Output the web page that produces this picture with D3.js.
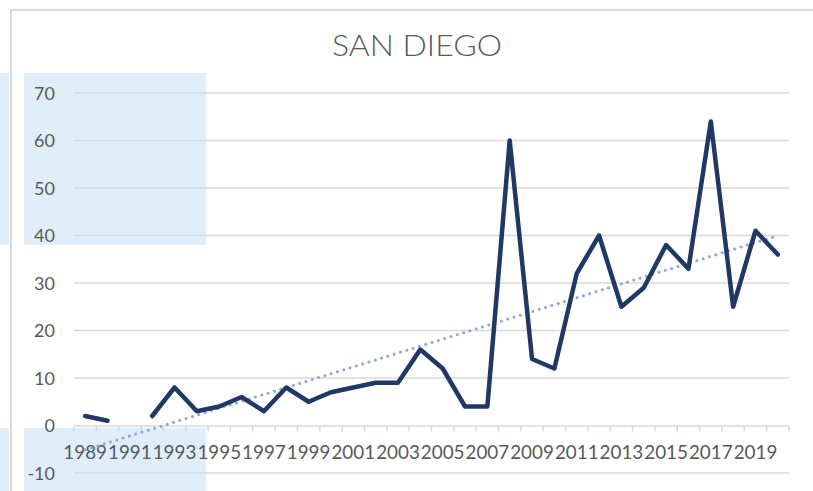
<!DOCTYPE html>
<html>
<head>
<meta charset="utf-8">
<script src="https://cdn.jsdelivr.net/npm/d3@7"></script>
<style>
    body { margin: 0; background: #fff; }
    svg { display: block; }
</style>
</head>
<body>
<div id="chart"></div>
<script>
// chart values
let years = [1989, 1990, 1991, 1992, 1993, 1994, 1995, 1996, 1997, 1998, 1999, 2000,
    2001, 2002, 2003, 2004, 2005, 2006, 2007, 2008, 2009, 2010, 2011, 2012,
    2013, 2014, 2015, 2016, 2017, 2018, 2019, 2020];
let counts = [2, 1, null, 2, 8, 3, 4, 6, 3, 8, 5, 7,
    8, 9, 9, 16, 12, 4, 4, 60, 14, 12, 32, 40,
    25, 29, 38, 33, 64, 25, 41, 36];
let yTicks = [-10, 0, 10, 20, 30, 40, 50, 60, 70];
let xLabels = years.filter(function(d, i) { return i % 2 == 0; });
let title = "SAN DIEGO";

let W = 813, H = 491;
let plot = {left: 74, right: 789, top: 93, bottom: 473};

let svg = d3.select("#chart")
    .append("svg")
    .attr("width", W)
    .attr("height", H);

// the highlighted cells behind the chart (spreadsheet selection)
let cellColor = "#e0eef9";
svg.append("rect").attr("x", 0).attr("y", 73).attr("width", 9).attr("height", 172).attr("fill", cellColor);
svg.append("rect").attr("x", 24).attr("y", 73).attr("width", 182).attr("height", 172).attr("fill", cellColor);
svg.append("rect").attr("x", 0).attr("y", 428).attr("width", 9).attr("height", 63).attr("fill", cellColor);
svg.append("rect").attr("x", 24).attr("y", 428).attr("width", 182).attr("height", 63).attr("fill", cellColor);

// chart border
svg.append("path")
    .attr("d", "M11," + H + "V10H" + W)
    .attr("fill", "none")
    .attr("stroke", "#d9d9d9")
    .attr("stroke-width", 2);

// title
svg.append("text")
    .attr("x", 417)
    .attr("y", 56)
    .attr("text-anchor", "middle")
    .attr("fill", "#595959")
    .attr("textLength", 170)
    .attr("lengthAdjust", "spacingAndGlyphs")
    .style("font-family", "Lato, 'Noto Sans', sans-serif")
    .style("font-weight", 300)
    .style("font-size", "29px")
    .text(title);

// scales
let x = d3.scaleBand()
    .domain(years)
    .range([plot.left, plot.right]);
let y = d3.scaleLinear()
    .domain([-10, 70])
    .range([plot.bottom, plot.top]);

// gridlines
svg.append("g")
    .selectAll("line")
    .data(yTicks.filter(function(d) { return d != 0; }))
    .enter()
    .append("line")
    .attr("x1", plot.left)
    .attr("x2", plot.right)
    .attr("y1", function(d) { return y(d); })
    .attr("y2", function(d) { return y(d); })
    .attr("stroke", "#d9d9d9")
    .attr("stroke-width", 1.5);

// y labels
svg.append("g")
    .selectAll("text")
    .data(yTicks)
    .enter()
    .append("text")
    .attr("x", 55)
    .attr("y", function(d) { return y(d) + 6.5; })
    .attr("text-anchor", "end")
    .attr("fill", "#595959")
    .style("font-family", "Lato, 'Noto Sans', sans-serif")
    .style("font-size", "18px")
    .text(function(d) { return d; });

// x axis at zero with tick marks between categories
let xAxis = svg.append("g")
    .attr("transform", "translate(0," + y(0) + ")")
    .call(d3.axisBottom(x).tickValues([]).tickSizeOuter(0));
xAxis.select(".domain").attr("stroke", "#d9d9d9").attr("stroke-width", 1.5);
xAxis.selectAll(".boundary")
    .data(years.concat([null]))
    .enter()
    .append("line")
    .attr("class", "boundary")
    .attr("x1", function(d, i) { return plot.left + i * x.step(); })
    .attr("x2", function(d, i) { return plot.left + i * x.step(); })
    .attr("y1", 0)
    .attr("y2", 6)
    .attr("stroke", "#d9d9d9")
    .attr("stroke-width", 1.5);

// x labels, every second year, spanning two categories
svg.append("g")
    .selectAll("text")
    .data(xLabels)
    .enter()
    .append("text")
    .attr("x", function(d) { return x(d) + x.bandwidth() / 2; })
    .attr("y", 459)
    .attr("text-anchor", "middle")
    .attr("fill", "#595959")
    .attr("textLength", x.step() * 2 - 1)
    .attr("lengthAdjust", "spacingAndGlyphs")
    .style("font-family", "Lato, 'Noto Sans', sans-serif")
    .style("font-size", "20px")
    .text(function(d) { return d; });

// linear trendline (least squares on the years that have a value)
let pts = [];
counts.forEach(function(v, i) { if (v != null) pts.push([i, v]); });
let mx = d3.mean(pts, function(p) { return p[0]; });
let my = d3.mean(pts, function(p) { return p[1]; });
let slope = d3.sum(pts, function(p) { return (p[0] - mx) * (p[1] - my); }) /
    d3.sum(pts, function(p) { return (p[0] - mx) * (p[0] - mx); });
let icpt = my - slope * mx;
let trend = [0, years.length - 1].map(function(i) { return {year: years[i], v: icpt + slope * i}; });

svg.append("path")
    .datum(trend)
    .attr("fill", "none")
    .attr("stroke", "#8faadc")
    .attr("stroke-width", 3)
    .attr("stroke-linecap", "round")
    .attr("stroke-dasharray", "0.1 6.5")
    .attr("d", d3.line()
        .x(function(d) { return x(d.year) + x.bandwidth() / 2; })
        .y(function(d) { return y(d.v); })
    );

// the data line, broken where a year is missing
svg.append("path")
    .datum(years.map(function(yr, i) { return {year: yr, v: counts[i]}; }))
    .attr("fill", "none")
    .attr("stroke", "#203864")
    .attr("stroke-width", 4.5)
    .attr("stroke-linecap", "round")
    .attr("stroke-linejoin", "round")
    .attr("d", d3.line()
        .defined(function(d) { return d.v != null; })
        .x(function(d) { return x(d.year) + x.bandwidth() / 2; })
        .y(function(d) { return y(d.v); })
    );
</script>
</body>
</html>
